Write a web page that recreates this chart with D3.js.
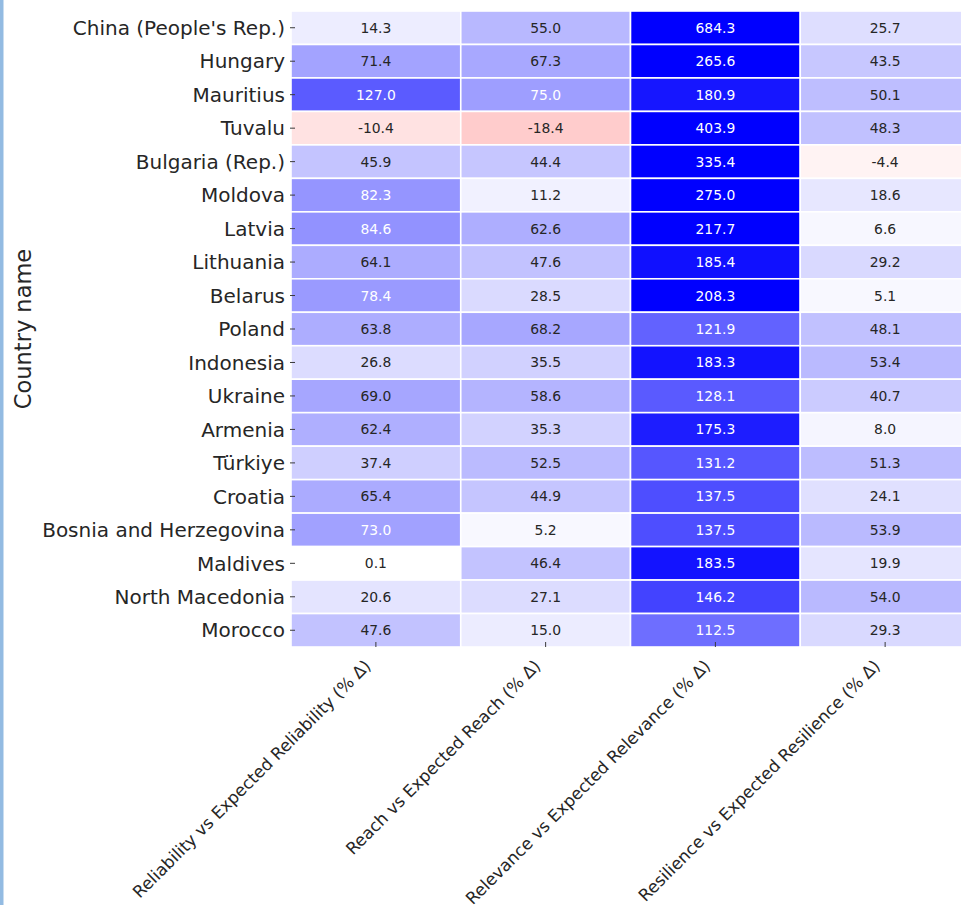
<!DOCTYPE html>
<html>
<head>
<meta charset="utf-8">
<script src="https://cdn.jsdelivr.net/npm/d3@7"></script>
<style>
  html, body { margin: 0; padding: 0; background: #ffffff; }
  svg { display: block; }
  text { font-family: "DejaVu Sans", sans-serif; }
</style>
</head>
<body>
<div id="chart"></div>
<script>
// Row and column labels
const countries = [
  "China (People's Rep.)", "Hungary", "Mauritius", "Tuvalu", "Bulgaria (Rep.)",
  "Moldova", "Latvia", "Lithuania", "Belarus", "Poland", "Indonesia", "Ukraine",
  "Armenia", "Türkiye", "Croatia", "Bosnia and Herzegovina", "Maldives",
  "North Macedonia", "Morocco"
];
const metrics = [
  "Reliability vs Expected Reliability (% Δ)",
  "Reach vs Expected Reach (% Δ)",
  "Relevance vs Expected Relevance (% Δ)",
  "Resilience vs Expected Resilience (% Δ)"
];

// One array per metric, in country order
const reliability = [14.3, 71.4, 127.0, -10.4, 45.9, 82.3, 84.6, 64.1, 78.4, 63.8, 26.8, 69.0, 62.4, 37.4, 65.4, 73.0, 0.1, 20.6, 47.6];
const reach       = [55.0, 67.3, 75.0, -18.4, 44.4, 11.2, 62.6, 47.6, 28.5, 68.2, 35.5, 58.6, 35.3, 52.5, 44.9, 5.2, 46.4, 27.1, 15.0];
const relevance   = [684.3, 265.6, 180.9, 403.9, 335.4, 275.0, 217.7, 185.4, 208.3, 121.9, 183.3, 128.1, 175.3, 131.2, 137.5, 137.5, 183.5, 146.2, 112.5];
const resilience  = [25.7, 43.5, 50.1, 48.3, -4.4, 18.6, 6.6, 29.2, 5.1, 48.1, 53.4, 40.7, 8.0, 51.3, 24.1, 53.9, 19.9, 54.0, 29.3];

const seriesValues = [reliability, reach, relevance, resilience];
const yAxisTitle = "Country name";

// Flatten into cells
const cells = [];
countries.forEach((c, i) => {
  metrics.forEach((m, j) => {
    cells.push({ country: c, metric: m, value: seriesValues[j][i] });
  });
});

const W = 961, H = 905;
const svg = d3.select("#chart").append("svg")
  .attr("width", W).attr("height", H);

// thin blue strip on the left edge of the page
svg.append("rect")
  .attr("x", 0).attr("y", 0).attr("width", 3.5).attr("height", H)
  .attr("fill", "#93bbe2");

const x = d3.scaleBand().domain(metrics).range([291, 970]).padding(0);
const y = d3.scaleBand().domain(countries).range([11, 647]).padding(0);

// Diverging blue-white-red scale centred on zero
const color = d3.scaleLinear()
  .domain([-92, 0, 198])
  .range(["#ff0000", "#ffffff", "#0000ff"])
  .clamp(true);

function luminance(c) {
  const rgb = d3.rgb(c);
  const lin = v => {
    v = v / 255;
    return v <= 0.03928 ? v / 12.92 : Math.pow((v + 0.055) / 1.055, 2.4);
  };
  return 0.2126 * lin(rgb.r) + 0.7152 * lin(rgb.g) + 0.0722 * lin(rgb.b);
}

const g = svg.append("g");

g.selectAll("rect.cell")
  .data(cells)
  .join("rect")
  .attr("class", "cell")
  .attr("x", d => x(d.metric))
  .attr("y", d => y(d.country))
  .attr("width", x.bandwidth())
  .attr("height", y.bandwidth())
  .attr("fill", d => color(d.value))
  .attr("stroke", "#ffffff")
  .attr("stroke-width", 1.6);

// one decimal, plain hyphen for negatives
const fmt = d3.formatLocale({ decimal: ".", thousands: ",", grouping: [3], currency: ["", ""], minus: "-" }).format(".1f");
g.selectAll("text.val")
  .data(cells)
  .join("text")
  .attr("class", "val")
  .attr("x", d => x(d.metric) + x.bandwidth() / 2)
  .attr("y", d => y(d.country) + y.bandwidth() / 2)
  .attr("text-anchor", "middle")
  .attr("dy", "0.36em")
  .attr("font-size", 13.9)
  .attr("fill", d => luminance(color(d.value)) > 0.408 ? "#262626" : "#ffffff")
  .text(d => fmt(d.value));

// Y axis: tick marks and country labels
const yTicks = svg.append("g");
yTicks.selectAll("line")
  .data(countries)
  .join("line")
  .attr("x1", 290).attr("x2", 295)
  .attr("y1", d => y(d) + y.bandwidth() / 2)
  .attr("y2", d => y(d) + y.bandwidth() / 2)
  .attr("stroke", "#3a3a3a").attr("stroke-width", 1);
yTicks.selectAll("text")
  .data(countries)
  .join("text")
  .attr("x", 285)
  .attr("y", d => y(d) + y.bandwidth() / 2)
  .attr("dy", "0.36em")
  .attr("text-anchor", "end")
  .attr("font-size", 20)
  .attr("fill", "#262626")
  .text(d => d);

// X axis: tick marks and rotated metric labels
const xTicks = svg.append("g");
xTicks.selectAll("line")
  .data(metrics)
  .join("line")
  .attr("x1", d => x(d) + x.bandwidth() / 2)
  .attr("x2", d => x(d) + x.bandwidth() / 2)
  .attr("y1", 642).attr("y2", 647)
  .attr("stroke", "#3a3a3a").attr("stroke-width", 1);
xTicks.selectAll("text")
  .data(metrics)
  .join("text")
  .attr("transform", d => `translate(${x(d) + x.bandwidth() / 2 - 4},${667}) rotate(-45)`)
  .attr("text-anchor", "end")
  .attr("font-size", 16.8)
  .attr("fill", "#262626")
  .text(d => d);

// Y axis title
svg.append("text")
  .attr("transform", `translate(31,${(11 + 647) / 2}) rotate(-90)`)
  .attr("text-anchor", "middle")
  .attr("font-size", 22.5)
  .attr("fill", "#262626")
  .text(yAxisTitle);
</script>
</body>
</html>
